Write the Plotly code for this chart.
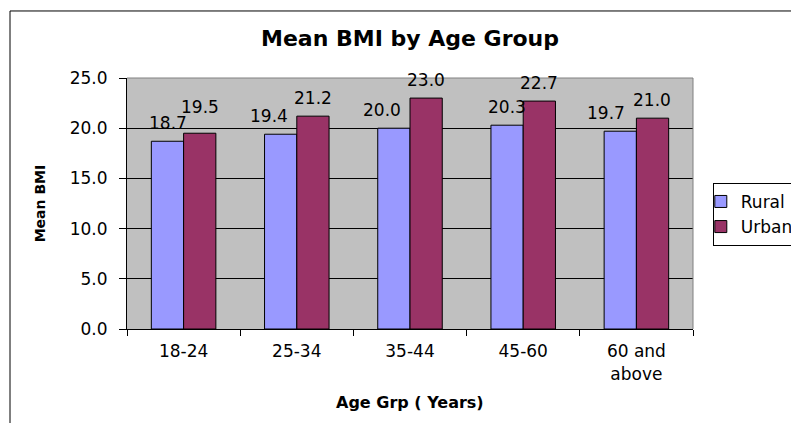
import plotly.graph_objects as go

categories = ["18-24", "25-34", "35-44", "45-60", "60 and<br>above"]
rural = [18.7, 19.4, 20.0, 20.3, 19.7]
urban = [19.5, 21.2, 23.0, 22.7, 21.0]
series_names = ["Rural", "Urban"]
y_ticks = [0, 5, 10, 15, 20, 25]

# label nudges (px) seen in the reference to avoid overlaps
rural_label_dx = [0, -12, -12, 0, -14]
urban_label_dy = [8, 0, 0, 0, 0]

FONT = "DejaVu Sans, Liberation Sans, Arial, sans-serif"
RURAL_COLOR = "#9999FF"
URBAN_COLOR = "#993366"

# page body has an 8px margin, so the figure is 8px smaller than the window
W, H = 791, 415

fig = go.Figure()
fig.add_trace(go.Bar(name=series_names[0], x=categories, y=rural,
                     marker=dict(color=RURAL_COLOR, line=dict(color="black", width=1))))
fig.add_trace(go.Bar(name=series_names[1], x=categories, y=urban,
                     marker=dict(color=URBAN_COLOR, line=dict(color="black", width=1))))

annotations = []
for c, v, dx in zip(categories, rural, rural_label_dx):
    annotations.append(dict(x=c, y=v, xref="x", yref="y", text=f"{v:.1f}",
                            showarrow=False, xshift=-16 + dx, yshift=18,
                            yanchor="middle",
                            font=dict(family=FONT, size=17, color="black")))
for c, v, dy in zip(categories, urban, urban_label_dy):
    annotations.append(dict(x=c, y=v, xref="x", yref="y", text=f"{v:.1f}",
                            showarrow=False, xshift=16, yshift=18 + dy,
                            yanchor="middle",
                            font=dict(family=FONT, size=17, color="black")))

annotations.append(dict(x=0.5, y=-0.291, xref="paper", yref="paper",
                        text="<b>Age Grp ( Years)</b>", showarrow=False,
                        yanchor="middle", font=dict(family=FONT, size=16, color="black")))
annotations.append(dict(x=-0.154, y=0.5, xref="paper", yref="paper",
                        text="<b>Mean BMI</b>", showarrow=False, textangle=-90,
                        xanchor="center", yanchor="middle",
                        font=dict(family=FONT, size=14, color="black")))

shapes = [
    dict(type="rect", xref="paper", yref="paper", x0=-0.2067, x1=1.2, y0=-0.41, y1=1.267,
         line=dict(color="black", width=1), fillcolor="rgba(0,0,0,0)", layer="above"),
    dict(type="line", xref="paper", yref="paper", x0=0, x1=1, y0=1, y1=1,
         line=dict(color="#808080", width=1), layer="above"),
    dict(type="line", xref="paper", yref="paper", x0=1, x1=1, y0=0, y1=1,
         line=dict(color="#808080", width=1), layer="above"),
]

fig.update_layout(
    width=W, height=H,
    margin=dict(l=119, r=106, t=70, b=94, autoexpand=False),
    paper_bgcolor="white",
    plot_bgcolor="#C0C0C0",
    barmode="group",
    bargap=0.43,
    bargroupgap=0,
    title=dict(text="<b>Mean BMI by Age Group</b>", x=0.5, xref="paper",
               y=1 - 30 / H, yanchor="middle",
               font=dict(family=FONT, size=22, color="black")),
    font=dict(family=FONT, size=17, color="black"),
    legend=dict(x=1.035, y=0.582, xanchor="left", yanchor="top",
                bordercolor="black", borderwidth=1, bgcolor="white",
                font=dict(family=FONT, size=17, color="black"),
                indentation=-13, tracegroupgap=0),
    annotations=annotations,
    shapes=shapes,
    xaxis=dict(showgrid=False, showline=True, linecolor="black", linewidth=1,
               ticks="outside", tickson="boundaries", ticklen=6, tickcolor="black",
               ticklabelstandoff=7,
               tickfont=dict(family=FONT, size=17, color="black"), tickangle=0),
    yaxis=dict(range=[0, 25], tickvals=y_ticks, tickformat=".1f",
               showgrid=True, gridcolor="black", gridwidth=1,
               zeroline=False, showline=True, linecolor="black", linewidth=1,
               ticks="outside", ticklen=7, tickcolor="black",
               ticklabelstandoff=8,
               tickfont=dict(family=FONT, size=17, color="black")),
)

fig.write_html("out.html")
